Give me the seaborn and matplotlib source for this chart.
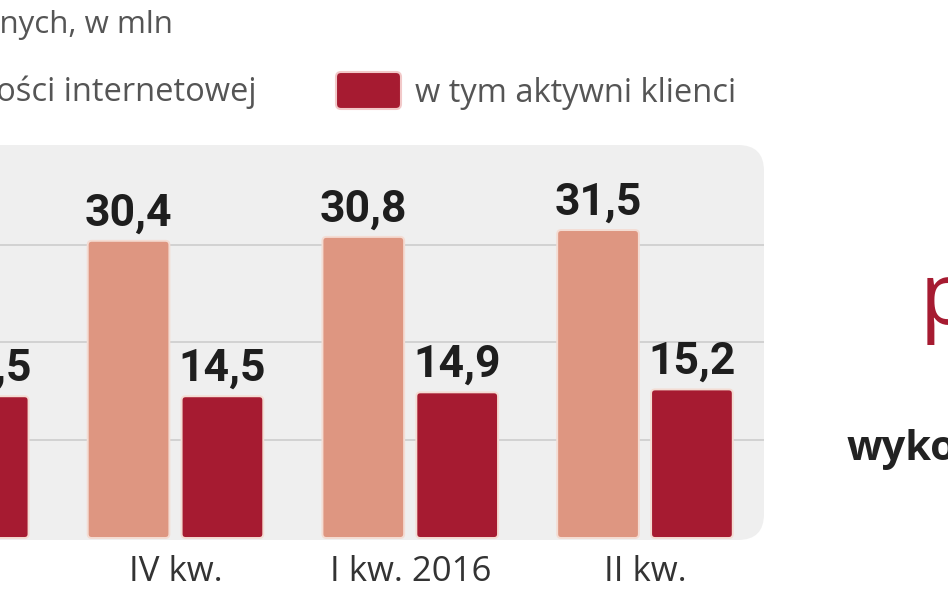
import matplotlib
matplotlib.use("Agg")
import matplotlib.pyplot as plt
import seaborn as sns
import pandas as pd
from matplotlib.patches import FancyBboxPatch

# ---- data ----
quarters = ["III kw.", "IV kw.", "I kw. 2016", "II kw."]
series_names = ["klienci z dostępem do bankowości internetowej", "w tym aktywni klienci"]
all_clients = [30.0, 30.4, 30.8, 31.5]
active_clients = [14.5, 14.5, 14.9, 15.2]
title_text = "Liczba klientów indywidualnych, w mln"
side_word_red = "p"
side_word_dark = "wykorzystanie"

colors = ["#DE9681", "#A61B31"]

df = pd.DataFrame({
    "quarter": quarters * 2,
    "series": [series_names[0]] * len(quarters) + [series_names[1]] * len(quarters),
    "value": all_clients + active_clients,
})

sns.set_theme(style="white")
plt.rcParams["font.family"] = ["Open Sans", "DejaVu Sans"]

W, H = 948, 593
fig = plt.figure(figsize=(W / 100, H / 100), dpi=100)
fig.patch.set_facecolor("white")

# rounded grey panel
panel = FancyBboxPatch((-80 / W, (H - 540) / H), (764 + 80) / W, (540 - 145) / H,
                       boxstyle=f"round,pad=0,rounding_size={26 / W}",
                       mutation_aspect=W / H, transform=fig.transFigure,
                       facecolor="#EFEFEF", edgecolor="none", zorder=-5)
fig.patches.append(panel)

ax = fig.add_axes([0, (H - 538) / H, 764 / W, (538 - 145) / H])
ax.set_facecolor("none")

sns.barplot(data=df, x="quarter", y="value", hue="series", order=quarters,
            hue_order=series_names, palette=colors, saturation=1, width=0.8, gap=0.13,
            edgecolor="#F4DCD3", linewidth=1.4, legend=False, ax=ax)

x0, x1 = 0.2524, 3.507
y0, y1 = 0.0, 40.2
ax.set_xlim(x0, x1)
ax.set_ylim(y0, y1)

px_x = 764 / (x1 - x0)
px_y = 393 / (y1 - y0)
r = 4 / px_x
ma = px_x / px_y

for cont in ax.containers:
    for bar in cont:
        bx, by = bar.get_x(), bar.get_y()
        bw, bh = bar.get_width(), bar.get_height()
        fc = bar.get_facecolor()
        bar.set_visible(False)
        fb = FancyBboxPatch((bx, by), bw, bh,
                            boxstyle=f"round,pad=0,rounding_size={r}",
                            mutation_aspect=ma, facecolor=fc,
                            edgecolor="#F4DCD3", linewidth=1.4, zorder=3,
                            clip_on=False)
        ax.add_patch(fb)
        label = f"{bh:.1f}".replace(".", ",")
        ax.annotate(label, (bx + bw / 2, by + bh), xytext=(0, 11),
                    textcoords="offset points", ha="center", va="baseline",
                    fontsize=32, fontweight="bold", family=["Roboto", "DejaVu Sans"],
                    color="#1E1E1E", annotation_clip=False, zorder=4)

ax.set_yticks([10, 20, 30])
ax.grid(axis="y", color="#D2D2D2", linewidth=1.4)
ax.set_axisbelow(True)
ax.tick_params(axis="y", length=0, labelleft=False)
ax.tick_params(axis="x", length=0, pad=12, labelsize=25, labelcolor="#333333")
for s in ax.spines.values():
    s.set_visible(False)
ax.set_xlabel("")
ax.set_ylabel("")

# title and legend (cut off at left as in reference)
fig.text(173 / W, 1 - 33 / H, title_text, ha="right", va="baseline",
         fontsize=22.5, color="#555555")
fig.text(257 / W, 1 - 101 / H, series_names[0], ha="right", va="baseline",
         fontsize=23.5, color="#555555")
leg_patch = FancyBboxPatch((336 / W, 1 - 109 / H), 65 / W, 37 / H,
                           boxstyle=f"round,pad=0,rounding_size={5 / W}",
                           mutation_aspect=W / H, transform=fig.transFigure,
                           facecolor=colors[1], edgecolor="#F2C9C9", linewidth=1.5)
fig.patches.append(leg_patch)
fig.text(415 / W, 1 - 102 / H, series_names[1], ha="left", va="baseline",
         fontsize=23.5, color="#555555")

# neighbouring article text on the right
fig.text(920 / W, 1 - 324 / H, side_word_red, ha="left", va="baseline",
         fontsize=62, color="#A61B31")
fig.text(847 / W, 1 - 460 / H, side_word_dark, ha="left", va="baseline",
         fontsize=30, fontweight="bold", color="#222222")

fig.savefig("out.png", dpi=100)
